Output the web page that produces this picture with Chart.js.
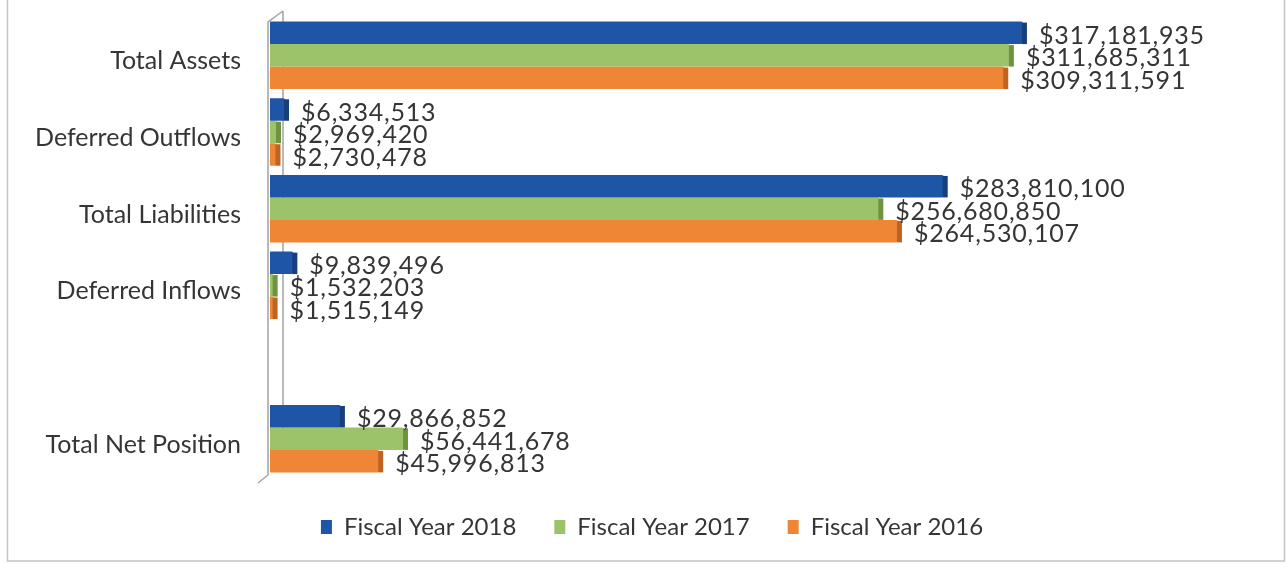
<!DOCTYPE html>
<html>
<head>
<meta charset="utf-8">
<script src="https://cdn.jsdelivr.net/npm/chart.js@4/dist/chart.umd.min.js"></script>
<style>
  html, body { margin: 0; padding: 0; background: #fff; }
  #wrap { width: 1287px; height: 564px; position: relative; }
</style>
</head>
<body>
<div id="wrap"><canvas id="netPositionChart"></canvas></div>
<script>
// Statement of net position — three fiscal years, horizontal bars
const categories = ["Total Assets", "Deferred Outflows", "Total Liabilities", "Deferred Inflows", "", "Total Net Position"];
const fy2018 = [317181935, 6334513, 283810100, 9839496, null, 29866852];
const fy2017 = [311685311, 2969420, 256680850, 1532203, null, 56441678];
const fy2016 = [309311591, 2730478, 264530107, 1515149, null, 45996813];
const seriesNames = ["Fiscal Year 2018", "Fiscal Year 2017", "Fiscal Year 2016"];

const FONT = "Lato, 'Open Sans', sans-serif";
const TEXT = "#353535";

// bar face + darker side face (fake 3D edge)
const faces = ["#1f55a6", "#9dc36a", "#ef8636"];
const sides = ["#173f7c", "#6f9341", "#bf6420"];

const money = v => "$" + v.toLocaleString("en-US");

// outer frame + the slanted axis wall
const framePlugin = {
  id: "frame",
  beforeInit(chart) {
    // keep the wide item spacing but trim the legend's box height
    const fit = chart.legend.fit;
    chart.legend.fit = function () {
      fit.call(this);
      this.height = 87;
    };
  },
  beforeDraw(chart) {
    const ctx = chart.ctx;
    ctx.save();
    ctx.strokeStyle = "#c4c4c4";
    ctx.lineWidth = 1.5;
    ctx.strokeRect(7.5, -4, 1277, 565);
    ctx.restore();
  },
  beforeDatasetsDraw(chart) {
    const { ctx, chartArea: a } = chart;
    ctx.save();
    ctx.strokeStyle = "#a3a3a3";
    ctx.lineWidth = 1.5;
    ctx.beginPath();
    ctx.moveTo(a.left + 13, a.top - 6);   // back edge
    ctx.lineTo(a.left + 13, a.bottom - 8);
    ctx.moveTo(a.left + 13, a.top - 6);   // top slant
    ctx.lineTo(a.left - 2, a.top + 5);
    ctx.lineTo(a.left - 2, a.bottom - 2); // front edge
    ctx.lineTo(a.left - 12, a.bottom + 6);
    ctx.stroke();
    ctx.restore();
  }
};

// right-hand side face of each bar, then the value labels
const valuePlugin = {
  id: "values",
  afterDatasetsDraw(chart) {
    const ctx = chart.ctx;
    ctx.save();
    chart.data.datasets.forEach((ds, i) => {
      const meta = chart.getDatasetMeta(i);
      meta.data.forEach((el, j) => {
        if (ds.data[j] == null) return;
        const h = el.height;
        ctx.fillStyle = sides[i];
        ctx.fillRect(el.x - 1, el.y - h / 2 + 1, 5, h - 1);
      });
    });
    ctx.font = "25px " + FONT;
    if ("letterSpacing" in ctx) ctx.letterSpacing = "0.8px";
    ctx.fillStyle = TEXT;
    ctx.textBaseline = "middle";
    ctx.textAlign = "left";
    chart.data.datasets.forEach((ds, i) => {
      const meta = chart.getDatasetMeta(i);
      meta.data.forEach((el, j) => {
        const v = ds.data[j];
        if (v == null) return;
        ctx.fillText(money(v), el.x + 16, el.y + 3);
      });
    });
    ctx.restore();
  }
};

const ctx = document.getElementById("netPositionChart");

new Chart(ctx, {
  type: "bar",
  data: {
    labels: categories,
    datasets: [
      { label: seriesNames[0], data: fy2018, backgroundColor: faces[0] },
      { label: seriesNames[1], data: fy2017, backgroundColor: faces[1] },
      { label: seriesNames[2], data: fy2016, backgroundColor: faces[2] }
    ]
  },
  options: {
    indexAxis: "y",
    responsive: true,
    maintainAspectRatio: false,
    animation: false,
    devicePixelRatio: 1,
    datasets: {
      bar: {
        categoryPercentage: 0.88,
        barPercentage: 1.0,
        borderWidth: 0,
        borderRadius: 2,
        borderSkipped: "start"
      }
    },
    layout: { padding: { left: 18, right: 1, top: 17, bottom: 0 } },
    plugins: {
      legend: {
        position: "bottom",
        labels: {
          font: { family: FONT, size: 24 },
          color: TEXT,
          boxWidth: 11,
          boxHeight: 14,
          padding: 38
        }
      },
      tooltip: { enabled: false }
    },
    scales: {
      x: {
        display: false,
        min: 0,
        max: 428000000
      },
      y: {
        grid: { display: false, drawTicks: false },
        border: { display: false },
        ticks: {
          font: { family: FONT, size: 25 },
          color: TEXT,
          padding: 29,
          labelOffset: 6
        },
        afterFit(scale) {
          scale.width = 252;
          scale.paddingTop = 0;
          scale.paddingBottom = 0;
        }
      }
    }
  },
  plugins: [framePlugin, valuePlugin]
});
</script>
</body>
</html>
